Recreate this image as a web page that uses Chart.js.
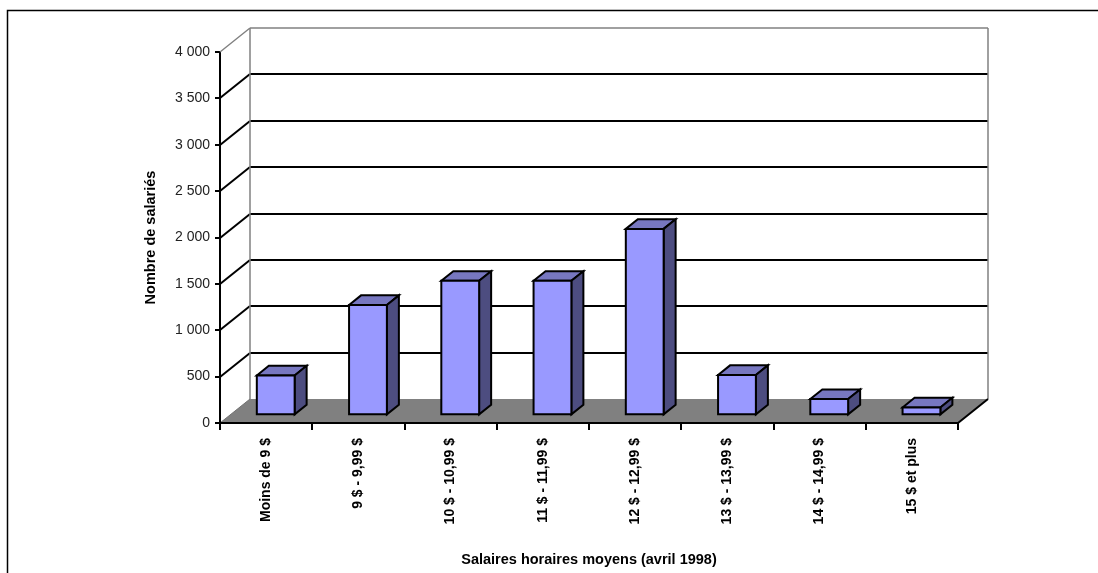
<!DOCTYPE html>
<html>
<head>
<meta charset="utf-8">
<script src="https://cdn.jsdelivr.net/npm/chart.js@4/dist/chart.umd.min.js"></script>
<style>
  body { margin: 0; background: #fff; }
  #wrap { width: 1098px; height: 573px; }
</style>
</head>
<body>
<div id="wrap"><canvas id="myChart"></canvas></div>
<script>
// categories and values
const categories = ["Moins de 9 $", "9 $ - 9,99 $", "10 $ - 10,99 $", "11 $ - 11,99 $",
  "12 $ - 12,99 $", "13 $ - 13,99 $", "14 $ - 14,99 $", "15 $ et plus"];
const salaries = [430, 1190, 1450, 1450, 2010, 435, 175, 85];
const yMax = 4000;
const yStep = 500;

const fontFamily = '"Liberation Sans Narrow", "Liberation Sans", Arial, sans-serif';

// fake 3D: back wall offset, and where the bars sit in the depth
const wall = { dx: 30, dy: -24 };
const barFront = 0.32, barBack = 0.72;
const colFront = "#9999ff", colTop = "#7777c0", colSide = "#4d4d80";

function fmt(v) {
  return String(v).replace(/\B(?=(\d{3})+(?!\d))/g, " ");
}

function poly(ctx, pts, fill, stroke, lw) {
  ctx.beginPath();
  ctx.moveTo(pts[0][0], pts[0][1]);
  for (let i = 1; i < pts.length; i++) ctx.lineTo(pts[i][0], pts[i][1]);
  ctx.closePath();
  if (fill) { ctx.fillStyle = fill; ctx.fill(); }
  if (stroke) { ctx.strokeStyle = stroke; ctx.lineWidth = lw; ctx.stroke(); }
}

function line(ctx, x1, y1, x2, y2, color, lw) {
  ctx.beginPath();
  ctx.moveTo(x1, y1);
  ctx.lineTo(x2, y2);
  ctx.strokeStyle = color;
  ctx.lineWidth = lw;
  ctx.stroke();
}

const threeD = {
  id: "threeD",
  beforeDatasetsDraw(chart) {
    const ctx = chart.ctx;
    const area = chart.chartArea;
    const y = chart.scales.y;
    const L = area.left, R = area.right;
    ctx.save();
    ctx.lineJoin = "miter";

    // back wall grid + diagonals
    y.ticks.forEach(function (t) {
      const py = Math.round(y.getPixelForValue(t.value));
      if (t.value === 0) return;
      const c = t.value === yMax ? "#808080" : "#000";
      const w = t.value === yMax ? 1.5 : 2;
      line(ctx, L, py, L + wall.dx, py + wall.dy, c, w);
      line(ctx, L + wall.dx, py + wall.dy, R + wall.dx, py + wall.dy, c, w);
    });
    const yTop = Math.round(y.getPixelForValue(yMax)) + wall.dy;
    const y0 = y.getPixelForValue(0);
    line(ctx, L + wall.dx, yTop, L + wall.dx, y0 + wall.dy, "#808080", 1.5);
    line(ctx, R + wall.dx, yTop, R + wall.dx, y0 + wall.dy, "#808080", 1.5);

    // floor
    poly(ctx, [[L, y0], [R, y0], [R + wall.dx, y0 + wall.dy], [L + wall.dx, y0 + wall.dy]], "#808080");
    line(ctx, L, y0, L + wall.dx, y0 + wall.dy, "#707070", 1);
    line(ctx, R, y0, R + wall.dx, y0 + wall.dy, "#000", 2);
    line(ctx, L, y0, R, y0, "#000", 2);

    // bars
    const ox = wall.dx * barFront, oy = wall.dy * barFront;
    const dx = wall.dx * (barBack - barFront), dy = wall.dy * (barBack - barFront);
    chart.getDatasetMeta(0).data.forEach(function (bar) {
      const x0 = bar.x - bar.width / 2 + ox, x1 = bar.x + bar.width / 2 + ox;
      const top = bar.y + oy, base = bar.base + oy;
      poly(ctx, [[x0, top], [x0 + dx, top + dy], [x1 + dx, top + dy], [x1, top]], colTop, "#000", 2);
      poly(ctx, [[x1, top], [x1 + dx, top + dy], [x1 + dx, base + dy], [x1, base]], colSide, "#000", 2);
      poly(ctx, [[x0, top], [x1, top], [x1, base], [x0, base]], colFront, "#000", 2);
    });
    ctx.restore();
    return false;
  },
  afterDraw(chart) {
    const ctx = chart.ctx;
    ctx.save();
    ctx.beginPath();
    ctx.moveTo(7.5, chart.height);
    ctx.lineTo(7.5, 10.5);
    ctx.lineTo(chart.width, 10.5);
    ctx.strokeStyle = "#000";
    ctx.lineWidth = 1.5;
    ctx.stroke();
    ctx.restore();
  }
};

new Chart("myChart", {
  type: "bar",
  data: {
    labels: categories,
    datasets: [{
      data: salaries,
      backgroundColor: colFront,
      barPercentage: 0.41,
      categoryPercentage: 1.0
    }]
  },
  plugins: [threeD],
  options: {
    responsive: true,
    maintainAspectRatio: false,
    animation: false,
    layout: { padding: { left: 135, top: 52, right: 140, bottom: 0 } },
    plugins: { legend: { display: false }, tooltip: { enabled: false } },
    scales: {
      x: {
        grid: { offset: true, drawOnChartArea: false, tickLength: 7, color: "#000", lineWidth: 2 },
        border: { color: "#000", width: 2 },
        ticks: {
          maxRotation: 90, minRotation: 90, padding: 8, color: "#000",
          font: { family: fontFamily, size: 14, weight: "bold" }
        },
        title: {
          display: true, text: "Salaires horaires moyens (avril 1998)", color: "#000",
          padding: { top: 0, bottom: 4 },
          font: { family: fontFamily, size: 14.5, weight: "bold" }
        },
        afterFit(s) { s.height = 150; }
      },
      y: {
        min: 0, max: yMax,
        grid: { drawOnChartArea: false, tickLength: 5, color: "#000", lineWidth: 2 },
        border: { color: "#000", width: 2 },
        ticks: {
          stepSize: yStep, padding: 5, color: "#222",
          font: { family: fontFamily, size: 14 },
          callback: function (v) { return fmt(v); }
        },
        title: {
          display: true, text: "Nombre de salariés", color: "#000",
          padding: { top: 7, bottom: 0 },
          font: { family: fontFamily, size: 14.5, weight: "bold" }
        },
        afterFit(s) { s.width = 85; }
      }
    }
  }
});
</script>
</body>
</html>
